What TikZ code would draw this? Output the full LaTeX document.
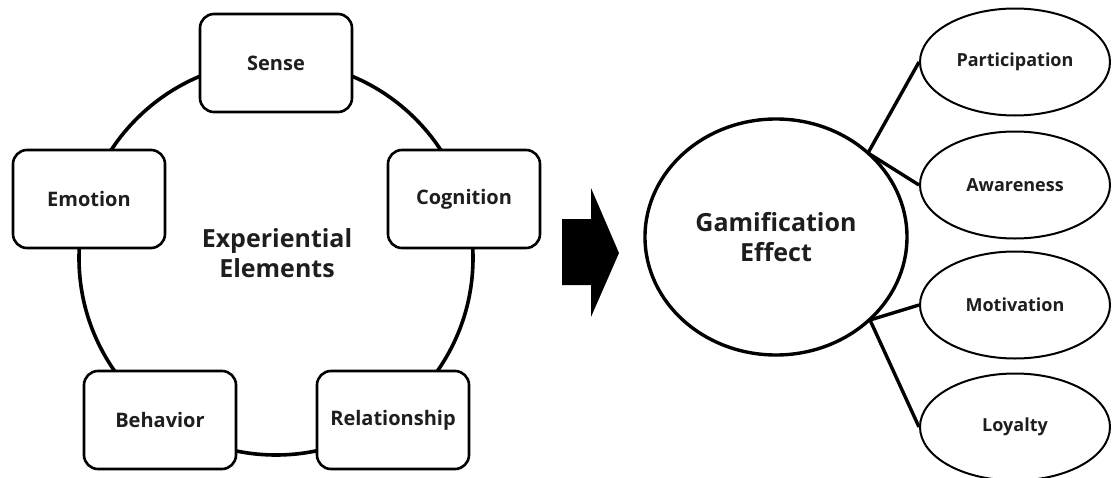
\documentclass[tikz,border=0pt]{standalone}
\usepackage{fontspec}
\setmainfont{Open Sans}
\usetikzlibrary{shapes.geometric}
\definecolor{ink}{HTML}{1E1E1E}
\begin{document}
\begin{tikzpicture}[x=1pt,y=-1pt,
  elembox/.style={draw=black, line width=2.6pt, rounded corners=14pt, fill=white,
    minimum width=152pt, minimum height=98pt, inner sep=0pt,
    font=\fontsize{20}{24}\selectfont\bfseries, text=ink},
  effect/.style={draw=black, line width=2pt, ellipse, fill=white,
    minimum width=190pt, minimum height=107pt, inner sep=0pt,
    font=\fontsize{18}{22}\selectfont\bfseries, text=ink},
  title/.style={align=center, font=\fontsize{25}{30}\selectfont\bfseries, text=ink},
  link/.style={line width=3.4pt}]
\useasboundingbox (0,0) rectangle (1112,477);

% ring of experiential elements
\node[circle, draw=black, line width=3.6pt, minimum size=394pt, inner sep=0pt] (ring) at (276,258) {};
\node[title] (exp) at (277,253) {Experiential\\Elements};

\node[elembox] (sense) at (276,63)  {Sense};
\node[elembox] (emotion) at (89,199) {Emotion};
\node[elembox] (cognition) at (464,199) {Cognition};
\node[elembox] (behavior) at (160,420) {Behavior};
\node[elembox] (relation) at (393,420) {Relationship};

% block arrow
\fill[black] (562,219) -- (591,219) -- (591,188) -- (619,253) -- (591,317)
  -- (591,285) -- (562,285) -- cycle;

% gamification effect
\node[ellipse, draw=black, line width=3.4pt, minimum width=262pt, minimum height=236pt,
  inner sep=0pt, title] (gam) at (776,237) {Gamification\\Effect};

\node[effect] (part) at (1015,62) {Participation};
\node[effect] (aware) at (1015,185) {Awareness};
\node[effect] (motiv) at (1015,305) {Motivation};
\node[effect] (loyal) at (1015,427) {Loyalty};

\coordinate (jtop) at (868,153);
\coordinate (jbot) at (870,320);
\draw[link] (jtop) -- (part.west);
\draw[link] (jtop) -- (aware.west);
\draw[link] (jbot) -- (motiv.west);
\draw[link] (jbot) -- (loyal.west);
\end{tikzpicture}
\end{document}
